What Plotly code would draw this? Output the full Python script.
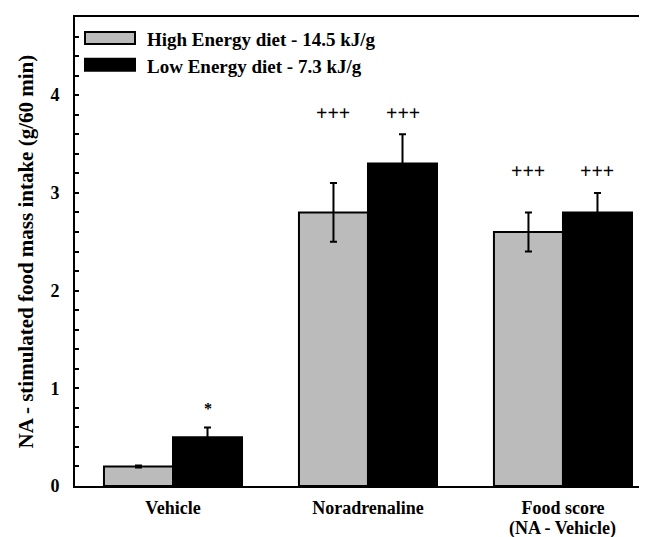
import plotly.graph_objects as go

categories = ["Vehicle", "Noradrenaline", "Food score"]
high_energy = [0.2, 2.8, 2.6]
high_err = [0.01, 0.3, 0.2]
low_energy = [0.5, 3.3, 2.8]
low_err = [0.1, 0.3, 0.2]
high_sig = ["", "+++", "+++"]
low_sig = ["*", "+++", "+++"]
legend_names = ["High Energy diet - 14.5 kJ/g", "Low Energy diet - 7.3 kJ/g"]
y_title = "NA - stimulated food mass intake (g/60 min)"
sub_label = "(NA - Vehicle)"

FONT = "Liberation Serif, Times New Roman, serif"
GRAY = "#bbbbbb"
BARGAP = 0.292

fig = go.Figure()
fig.add_trace(go.Bar(
    x=categories, y=high_energy, name=legend_names[0],
    marker=dict(color=GRAY, line=dict(color="black", width=2)),
    error_y=dict(type="data", array=high_err, color="black", thickness=2, width=3.5),
    showlegend=False,
))
fig.add_trace(go.Bar(
    x=categories, y=low_energy, name=legend_names[1],
    marker=dict(color="black", line=dict(color="black", width=2)),
    error_y=dict(type="data", array=low_err, color="black", thickness=2, width=3.5),
    showlegend=False,
))

# significance marks above each group
off = (1 - BARGAP) / 4
for i in range(len(categories)):
    top = max(high_energy[i] + high_err[i], low_energy[i] + low_err[i]) + 0.2
    for sig, dx in ((high_sig[i], -off), (low_sig[i], off)):
        if sig:
            is_star = sig == "*"
            fig.add_annotation(
                x=i + dx, y=top + (-0.01 if is_star else 0.02), xref="x", yref="y",
                text=sig, showarrow=False, yanchor="middle",
                font=dict(family=FONT, size=16 if is_star else 20, color="black", weight="bold"),
            )

# second line of last category label
fig.add_annotation(
    x=2, y=-0.0896, xref="x", yref="paper", text=sub_label, showarrow=False,
    yanchor="middle", font=dict(family=FONT, size=18, color="black", weight="bold"),
)

# y-axis title
fig.add_annotation(
    x=-0.0845, y=0.5, xref="paper", yref="paper", text=y_title, showarrow=False,
    textangle=-90, xanchor="center", yanchor="middle",
    font=dict(family=FONT, size=21, color="black", weight="bold"),
)

# legend drawn manually
sw = [(GRAY, 0.9552, 0.951), ("black", 0.8983, 0.8955)]
for (col, yc, yt), name in zip(sw, legend_names):
    fig.add_shape(type="rect", xref="paper", yref="paper",
                  x0=(77 - 67) / 580, x1=(127 - 67) / 580,
                  y0=yc - 6 / 469, y1=yc + 6 / 469,
                  fillcolor=col, line=dict(color="black", width=2))
    fig.add_annotation(x=(137 - 67) / 580, y=yt, xref="paper", yref="paper",
                       text=name, showarrow=False, xanchor="left", yanchor="middle",
                       font=dict(family=FONT, size=19, color="black", weight="bold"))

fig.update_layout(
    width=647, height=537,
    margin=dict(l=67, r=0, t=9, b=59),
    paper_bgcolor="white", plot_bgcolor="white",
    barmode="group", bargap=BARGAP, bargroupgap=0,
    font=dict(family=FONT, color="black"),
    xaxis=dict(
        type="category", range=[-0.5026, 2.472],
        showline=True, linecolor="black", linewidth=2, mirror=True,
        ticks="", showgrid=False, zeroline=False,
        tickfont=dict(family=FONT, size=18, color="black", weight="bold"),
        ticklabelstandoff=4,
    ),
    yaxis=dict(
        range=[0, 4.8], tickvals=[0, 1, 2, 3, 4],
        showline=True, linecolor="black", linewidth=2,
        ticks="inside", ticklen=4, tickwidth=1.5, tickcolor="black",
        minor=dict(dtick=0.2, ticks="inside", ticklen=4, tickwidth=1.5, tickcolor="black"),
        showgrid=False, zeroline=False,
        tickfont=dict(family=FONT, size=18, color="black", weight="bold"),
        ticklabelstandoff=10,
    ),
)

fig.write_html("out.html")
